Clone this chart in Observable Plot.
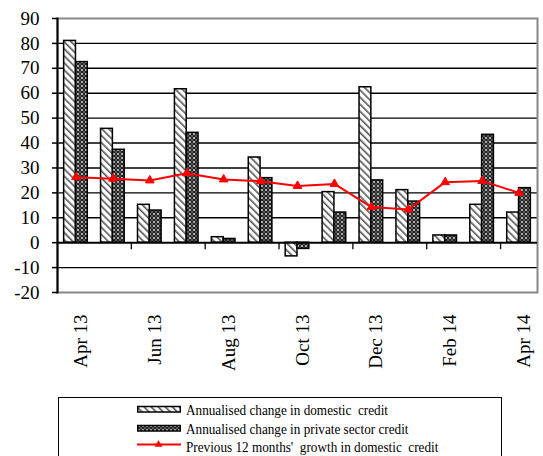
<!DOCTYPE html>
<html>
<head>
<meta charset="utf-8">
<script src="https://cdn.jsdelivr.net/npm/d3@7"></script>
<script src="https://cdn.jsdelivr.net/npm/@observablehq/plot@0.6"></script>
<style>
  html, body { margin: 0; padding: 0; background: #fff; }
  body { width: 543px; height: 456px; position: relative; overflow: hidden; font-family: "Liberation Serif", "Times New Roman", serif; }
  #chart { position: absolute; left: 0; top: 0; }
  #legend { position: absolute; left: 58px; top: 397px; width: 444px; height: 80px; border: 1.5px solid #000; box-sizing: border-box; background: #fff; }
  .row { position: absolute; left: 0; height: 18px; width: 100%; }
  .row svg { position: absolute; left: 78px; top: 0; overflow: visible; }
  .row span { position: absolute; left: 127px; top: 0; line-height: 18px; font-size: 15px; white-space: pre; transform: scaleX(0.88); transform-origin: left center; }
</style>
</head>
<body>
<svg width="0" height="0" style="position:absolute">
  <defs>
    <pattern id="diag" patternUnits="userSpaceOnUse" width="5" height="5" patternTransform="rotate(-45)">
      <rect width="5" height="5" fill="#fff"/>
      <rect x="0" y="0" width="1.6" height="5" fill="#555"/>
    </pattern>
    <pattern id="cross" patternUnits="userSpaceOnUse" width="4" height="4">
      <rect width="4" height="4" fill="#222"/>
      <circle cx="2" cy="2" r="1.1" fill="#cfcfcf"/>
      <circle cx="0" cy="0" r="0.8" fill="#9a9a9a"/>
      <circle cx="4" cy="0" r="0.8" fill="#9a9a9a"/>
      <circle cx="0" cy="4" r="0.8" fill="#9a9a9a"/>
      <circle cx="4" cy="4" r="0.8" fill="#9a9a9a"/>
    </pattern>
  </defs>
</svg>
<div id="chart"></div>
<div id="legend"></div>
<script>
const months = ["Apr 13","May 13","Jun 13","Jul 13","Aug 13","Sep 13","Oct 13","Nov 13","Dec 13","Jan 14","Feb 14","Mar 14","Apr 14"];
const domesticCredit = [81, 45.7, 15.2, 61.6, 2.2, 34.2, -5.5, 20.3, 62.4, 21.1, 2.9, 15.2, 12.1];
const privateCredit = [72.5, 37.3, 12.9, 44.1, 1.5, 25.9, -2.5, 12.1, 25, 16.5, 2.9, 43.3, 21.9];
const growth12m = [26.3, 25.7, 25, 27.9, 25.4, 24.7, 22.8, 23.6, 14.3, 13.3, 24.3, 24.8, 20];
const xLabels = ["Apr 13","Jun 13","Aug 13","Oct 13","Dec 13","Feb 14","Apr 14"];
const xTickMonths = ["Jun 13","Aug 13","Oct 13","Dec 13","Feb 14","Apr 14"];
const yTicks = [-20,-10,0,10,20,30,40,50,60,70,80,90];
const seriesNames = ["Annualised change in domestic  credit", "Annualised change in private sector credit", "Previous 12 months'  growth in domestic  credit"];

// each month occupies the unit interval [i, i+1] on a linear x scale
const data = months.map((m, i) => ({month: m, i, domestic: domesticCredit[i], private: privateCredit[i], growth: growth12m[i]}));
const pos = m => months.indexOf(m);
const bw = 0.32; // bar width as share of a month slot

const serif = "'Liberation Serif', 'Times New Roman', serif";
const W = 543, H = 392, mL = 57, mR = 6, mT = 18, mB = 100;

const chart = Plot.plot({
  width: W, height: H,
  marginLeft: mL, marginRight: mR, marginTop: mT, marginBottom: mB,
  style: {background: "#fff", fontFamily: serif, color: "#000"},
  x: {type: "linear", domain: [0, months.length], axis: null},
  y: {domain: [-20, 90]},
  marks: [
    Plot.ruleY(yTicks.filter(d => d > -20 && d < 90 && d !== 0), {stroke: "#000", strokeWidth: 1.4}),
    Plot.frame({stroke: "#888", strokeWidth: 2}),
    Plot.rectY(data, {x1: d => d.i + 0.5 - bw, x2: d => d.i + 0.5, y1: 0, y2: "domestic", fill: "url(#diag)", stroke: "#000", strokeWidth: 1.5}),
    Plot.rectY(data, {x1: d => d.i + 0.5, x2: d => d.i + 0.5 + bw, y1: 0, y2: "private", fill: "url(#cross)", stroke: "#000", strokeWidth: 1.5}),
    Plot.ruleY([0], {stroke: "#000", strokeWidth: 2}),
    Plot.frame({anchor: "left", stroke: "#000", strokeWidth: 2}),
    Plot.ruleX(xTickMonths, {x: pos, y1: 0, y2: 0, insetBottom: -7, stroke: "#000", strokeWidth: 1.3}),
    Plot.axisY({ticks: yTicks, tickSize: 5, tickPadding: 13, fontSize: 19, fontFamily: serif, tickFormat: d => String(d), label: null, stroke: "#000", strokeWidth: 1.5}),
    Plot.text(xLabels, {x: d => pos(d) + 0.5, frameAnchor: "bottom", rotate: -90, textAnchor: "end", lineAnchor: "middle", dx: 5, dy: 22, fontSize: 19, fontFamily: serif, letterSpacing: 1.2, fill: "#000"}),
    Plot.line(data, {x: d => d.i + 0.5, y: "growth", stroke: "#ff0000", strokeWidth: 2}),
    Plot.dot(data, {x: d => d.i + 0.5, y: "growth", symbol: "triangle", r: 3.2, fill: "#ff0000", stroke: "#ff0000", strokeWidth: 1})
  ]
});
document.getElementById("chart").appendChild(chart);

// Legend
const legend = document.getElementById("legend");
const rowTops = [3, 22, 40];
seriesNames.forEach((name, i) => {
  const row = document.createElement("div");
  row.className = "row";
  row.style.top = rowTops[i] + "px";
  let sw;
  if (i < 2) {
    sw = `<svg width="44" height="18"><rect x="0.75" y="5.5" width="42.5" height="5.5" fill="url(#${i === 0 ? "diag" : "cross"})" stroke="#000" stroke-width="1.5"/></svg>`;
  } else {
    sw = `<svg width="44" height="18"><line x1="0" x2="44" y1="6.5" y2="6.5" stroke="#ff0000" stroke-width="2"/><path d="M21.5,2.3 L25.5,8.8 L17.5,8.8 Z" fill="#ff0000"/></svg>`;
  }
  row.innerHTML = sw + `<span>${name}</span>`;
  legend.appendChild(row);
});
</script>
</body>
</html>
